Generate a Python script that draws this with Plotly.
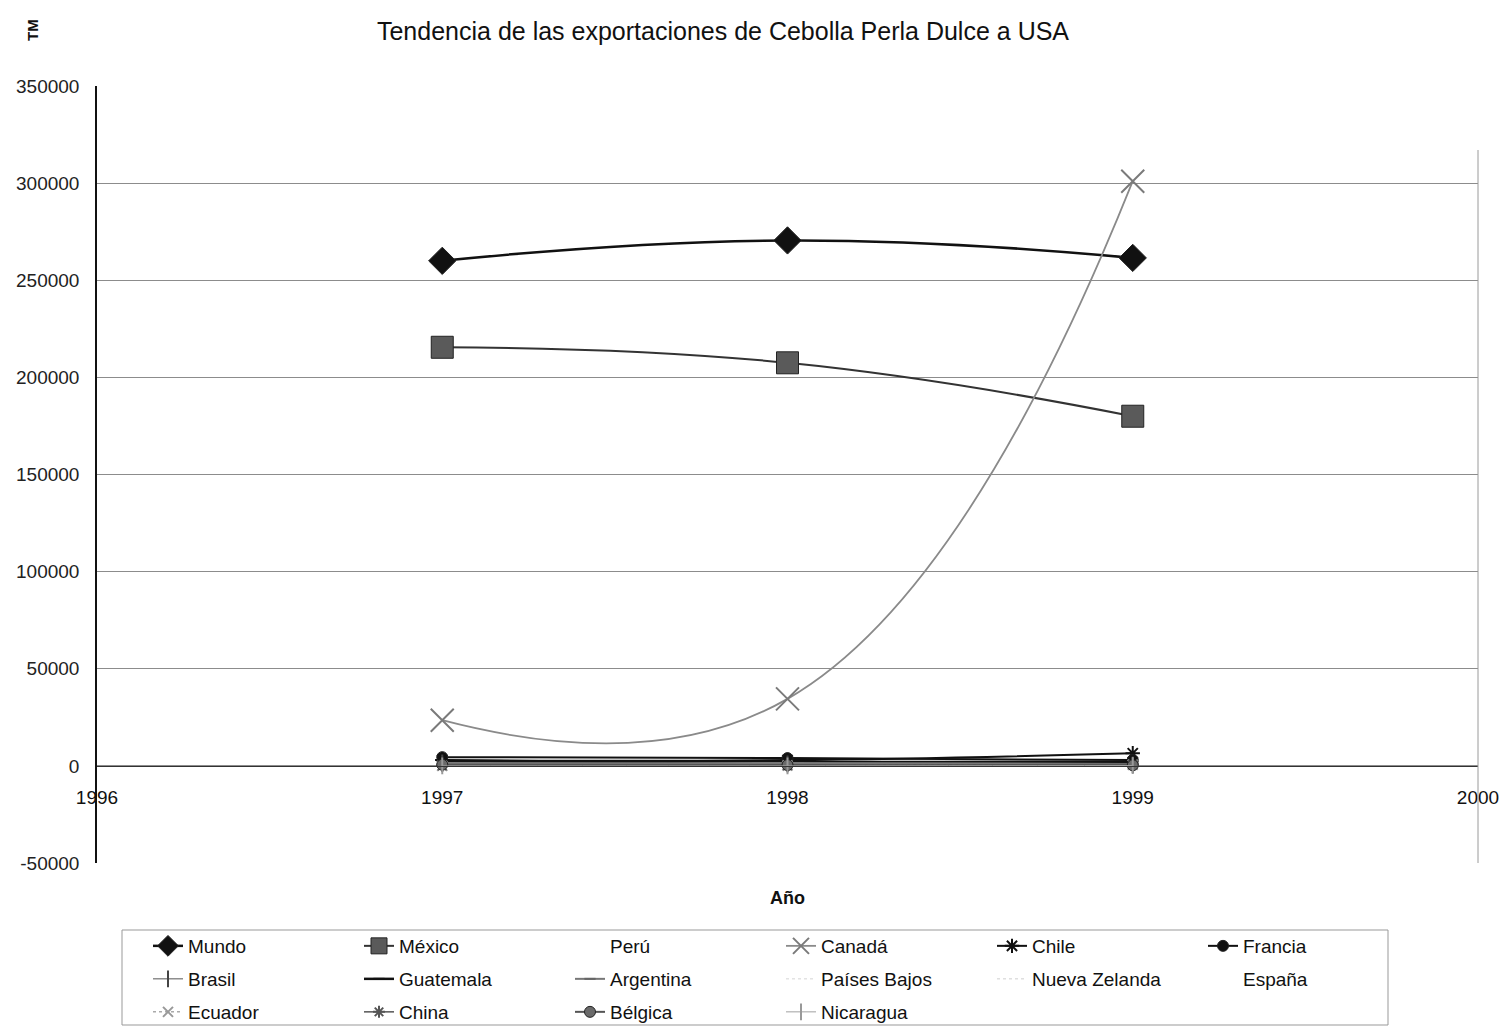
import plotly.graph_objects as go

# Years and exported volume (TM) per origin country
years = [1997, 1998, 1999]

mundo = [260000, 270500, 261500]
mexico = [215500, 207500, 180000]
peru = [0, 300, 1200]
canada = [23500, 34500, 301000]
chile = [3000, 3000, 6500]
francia = [4500, 4000, 3000]
brasil = [1500, 1000, 500]
guatemala = [2500, 2000, 2000]
argentina = [1000, 1500, 1000]
paises_bajos = [200, 100, 100]
nueva_zelanda = [300, 500, 700]
espana = [100, 100, 100]
ecuador = [0, 200, 600]
china = [0, 100, 800]
belgica = [600, 400, 300]
nicaragua = [0, 0, 200]

y_ticks = [-50000, 0, 50000, 100000, 150000, 200000, 250000, 300000, 350000]
x_ticks = [1996, 1997, 1998, 1999, 2000]

FONT = "Liberation Sans, Arial, sans-serif"

# name, values, line colour, line width, dash, marker symbol, marker size, marker colour, legend row
series = [
    ("Mundo", mundo, "#111111", 2.5, "solid", "diamond", 21, "#111111", "legend"),
    ("México", mexico, "#333333", 2, "solid", "square", 22, "#5a5a5a", "legend"),
    ("Perú", peru, "rgba(255,255,255,0)", 1, "solid", None, 0, None, "legend"),
    ("Canadá", canada, "#8a8a8a", 1.8, "solid", "x-thin-open", 23, "#7a7a7a", "legend"),
    ("Chile", chile, "#111111", 2, "solid", "asterisk-open", 12, "#111111", "legend"),
    ("Francia", francia, "#111111", 2, "solid", "circle", 11, "#111111", "legend"),
    ("Brasil", brasil, "#555555", 1, "solid", "line-ns-open", 12, "#444444", "legend2"),
    ("Guatemala", guatemala, "#111111", 2.5, "solid", "line-ew-open", 8, "#111111", "legend2"),
    ("Argentina", argentina, "#777777", 2, "solid", "line-ew-open", 8, "#666666", "legend2"),
    ("Países Bajos", paises_bajos, "#d4d4d4", 1, "dot", None, 0, None, "legend2"),
    ("Nueva Zelanda", nueva_zelanda, "#cfcfcf", 1, "dot", None, 0, None, "legend2"),
    ("España", espana, "rgba(255,255,255,0)", 1, "solid", None, 0, None, "legend2"),
    ("Ecuador", ecuador, "#aaaaaa", 1.5, "dot", "x-thin-open", 10, "#999999", "legend3"),
    ("China", china, "#555555", 1.5, "solid", "asterisk-open", 10, "#555555", "legend3"),
    ("Bélgica", belgica, "#555555", 2, "solid", "circle", 11, "#6a6a6a", "legend3"),
    ("Nicaragua", nicaragua, "#a0a0a0", 1, "solid", "line-ns-open", 12, "#999999", "legend3"),
]

fig = go.Figure()

for name, vals, lc, lw, dash, sym, ms, mc, leg in series:
    kwargs = dict(
        x=years, y=vals, name=name, legend=leg,
        line=dict(color=lc, width=lw, dash=dash, shape="spline", smoothing=1.3),
    )
    if sym:
        marker_line = mc if sym.endswith("open") else "#222222"
        kwargs["mode"] = "lines+markers"
        kwargs["marker"] = dict(symbol=sym, size=ms, color=mc,
                                line=dict(color=marker_line, width=2 if sym.endswith("open") else 1))
    else:
        kwargs["mode"] = "lines"
    fig.add_trace(go.Scatter(**kwargs))

W, H = 1508, 1028
plot_h = H - 86 - 165
plot_w = W - 97 - 30


def py(pix):
    return (863 - pix) / plot_h


def px(pix):
    return (pix - 97) / plot_w


def cy(pix):
    return 1 - pix / H


def cx(pix):
    return pix / W


legend_common = dict(
    orientation="h", xanchor="left", yanchor="middle",
    xref="container", yref="container",
    x=cx(148), entrywidth=166, entrywidthmode="pixels",
    font=dict(family=FONT, size=19, color="#111111"),
    bgcolor="rgba(0,0,0,0)", borderwidth=0, traceorder="normal",
)

fig.update_layout(
    width=W, height=H,
    margin=dict(l=97, r=30, t=86, b=165, autoexpand=False),
    paper_bgcolor="white", plot_bgcolor="white",
    showlegend=True,
    title=dict(text="Tendencia de las exportaciones de Cebolla Perla Dulce a USA",
               x=723 / W, xanchor="center", y=1 - 31 / H, yanchor="middle",
               font=dict(family=FONT, size=25, color="#111111")),
    font=dict(family=FONT, color="#111111"),
    legend=dict(legend_common, y=cy(946)),
    legend2=dict(legend_common, y=cy(979)),
    legend3=dict(legend_common, y=cy(1012)),
    xaxis=dict(
        range=[1996, 2000], tickvals=x_ticks, ticktext=[str(v) for v in x_ticks],
        anchor="free", position=50000 / 400000,
        showline=True, linecolor="#333333", linewidth=1,
        showgrid=False, zeroline=False, ticks="", ticklabelstandoff=14,
        tickfont=dict(family=FONT, size=19, color="#111111"),
    ),
    yaxis=dict(
        range=[-50000, 350000], tickvals=y_ticks, ticktext=[str(v) for v in y_ticks],
        showline=True, linecolor="#111111", linewidth=1.5,
        showgrid=True, gridcolor="#8c8c8c", gridwidth=1,
        zeroline=False, ticks="", ticklabelstandoff=12,
        tickfont=dict(family=FONT, size=19, color="#222222"),
    ),
    annotations=[
        dict(text="<b>Año</b>", xref="paper", yref="paper", x=px(787), y=py(898),
             showarrow=False, xanchor="center", yanchor="middle",
             font=dict(family=FONT, size=18, color="#111111")),
        dict(text="<b>TM</b>", xref="paper", yref="paper", x=px(32), y=py(30),
             showarrow=False, xanchor="center", yanchor="middle", textangle=-90,
             font=dict(family=FONT, size=15, color="#111111")),
    ],
    shapes=[
        dict(type="line", xref="paper", yref="paper", x0=1, x1=1, y0=0, y1=py(150),
             line=dict(color="#9a9a9a", width=1)),
        dict(type="rect", xref="paper", yref="paper", x0=px(122), x1=px(1388),
             y0=py(930), y1=py(1025), line=dict(color="#999999", width=1),
             fillcolor="rgba(0,0,0,0)"),
    ],
)

fig.write_html("out.html")
